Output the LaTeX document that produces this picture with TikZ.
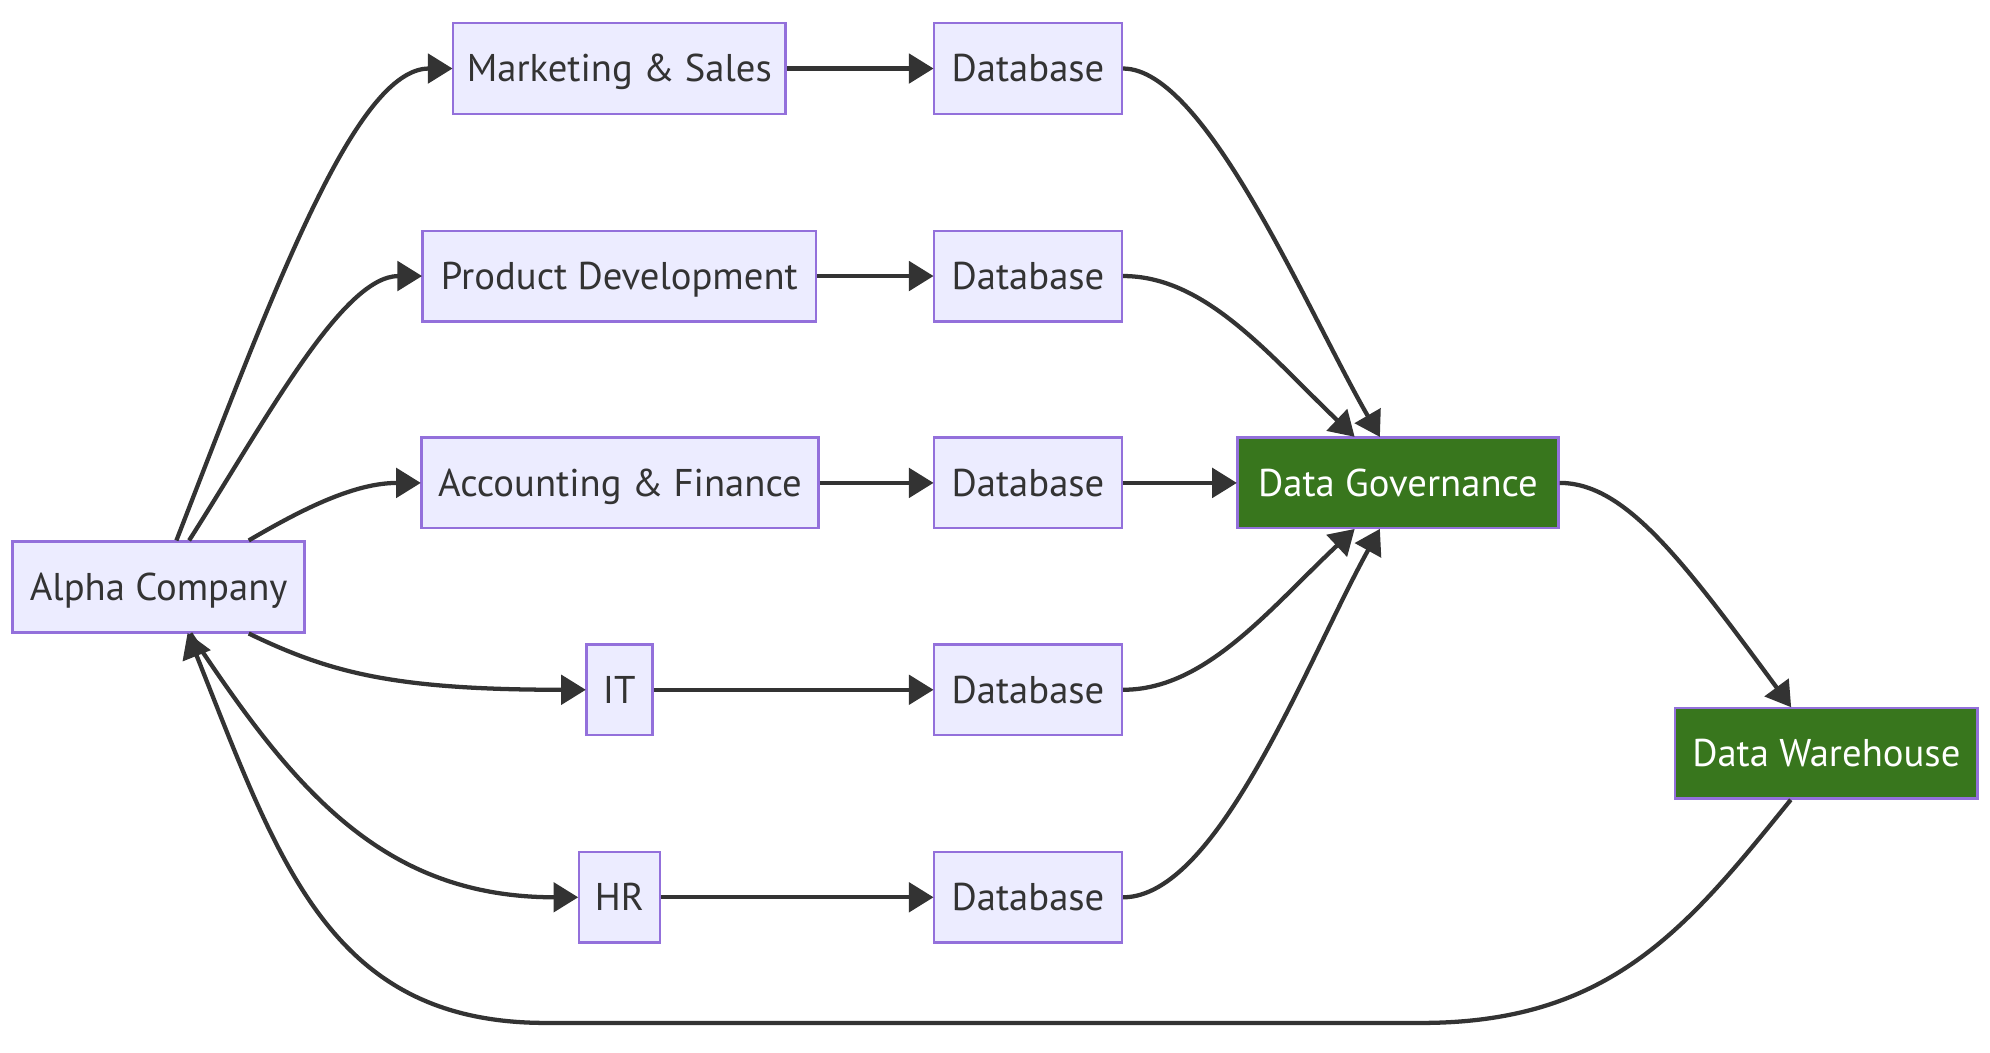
\documentclass[tikz,border=0pt]{standalone}
\usepackage{fontspec}
\setmainfont{PT Sans}
\usetikzlibrary{arrows.meta,calc}
\definecolor{nodefill}{HTML}{ECECFF}
\definecolor{nodeline}{HTML}{9370DB}
\definecolor{ink}{HTML}{333333}
\definecolor{govgreen}{HTML}{38761D}
\tikzset{
  bw/.style={minimum width=#1*0.95185pt},
  box/.style={draw=nodeline,fill=nodefill,line width=1.8pt,text=ink,inner sep=0pt,anchor=center,minimum height=68pt,text height=20pt,text depth=0pt,font=\fontsize{29}{34}\selectfont},
  greenbox/.style={box,fill=govgreen,text=white},
  edge/.style={draw=ink,line width=3.2pt,-{Triangle[length=18.5pt,width=22pt]},shorten >=-0.5pt},
}
\begin{document}
\begin{tikzpicture}[x=0.95185pt,y=-0.95185pt]
\useasboundingbox (0,0) rectangle (1568,829);
\node[box,bw=230] (alpha) at (125,462.5) {Alpha Company};
\node[box,bw=262] (mkt) at (488,54) {Marketing \& Sales};
\node[box,bw=310] (prod) at (488,217.5) {Product Development};
\node[box,bw=313] (acct) at (488.5,380.5) {Accounting \& Finance};
\node[box,bw=52] (it) at (488,543.5) {IT};
\node[box,bw=64] (hr) at (488,707) {HR};
\node[box,bw=148] (dbm) at (810,54) {Database};
\node[box,bw=148] (dbp) at (810,217.5) {Database};
\node[box,bw=148] (dba) at (810,380.5) {Database};
\node[box,bw=148] (dbi) at (810,543.5) {Database};
\node[box,bw=148] (dbh) at (810,707) {Database};
\node[greenbox,bw=253] (gov) at (1101.5,380.5) {Data Governance};
\node[greenbox,bw=238] (wh) at (1439,593.5) {Data Warehouse};
% from the company
\draw[edge] ($(alpha.north)+(14,0)$) .. controls (215,230) and (280,54) .. (mkt.west);
\draw[edge] ($(alpha.north)+(24,0)$) .. controls (210,330) and (270,217.5) .. (prod.west);
\draw[edge] ($(alpha.north)+(71,0)$) .. controls (240,400) and (280,380.5) .. (acct.west);
\draw[edge] ($(alpha.south)+(71,0)$) .. controls (260,530) and (310,543.5) .. (it.west);
\draw[edge] ($(alpha.south)+(25,0)$) .. controls (230,620) and (300,707) .. (hr.west);
% departments to databases
\draw[edge] (mkt.east) -- (dbm.west);
\draw[edge] (prod.east) -- (dbp.west);
\draw[edge] (acct.east) -- (dba.west);
\draw[edge] (it.east) -- (dbi.west);
\draw[edge] (hr.east) -- (dbh.west);
% databases to governance
\draw[edge] (dbm.east) .. controls (950,54) and (1030,245) .. ($(gov.north)+(-14.5,0)$);
\draw[edge] (dbp.east) .. controls (950,217.5) and (1000,280) .. ($(gov.north)+(-34.5,0)$);
\draw[edge] (dba.east) -- (gov.west);
\draw[edge] (dbi.east) .. controls (950,543.5) and (1000,480) .. ($(gov.south)+(-34.5,0)$);
\draw[edge] (dbh.east) .. controls (960,707) and (1030,520) .. ($(gov.south)+(-14.5,0)$);
% governance to warehouse and back
\draw[edge] (gov.east) .. controls (1280,380.5) and (1325,440) .. ($(wh.north)+(-28,0)$);
\draw[edge] ($(wh.south)+(-28,0)$) .. controls (1330,730) and (1270,806) .. (1120,806) -- (430,806) .. controls (260,806) and (220,680) .. ($(alpha.south)+(23,0)$);
\end{tikzpicture}
\end{document}
